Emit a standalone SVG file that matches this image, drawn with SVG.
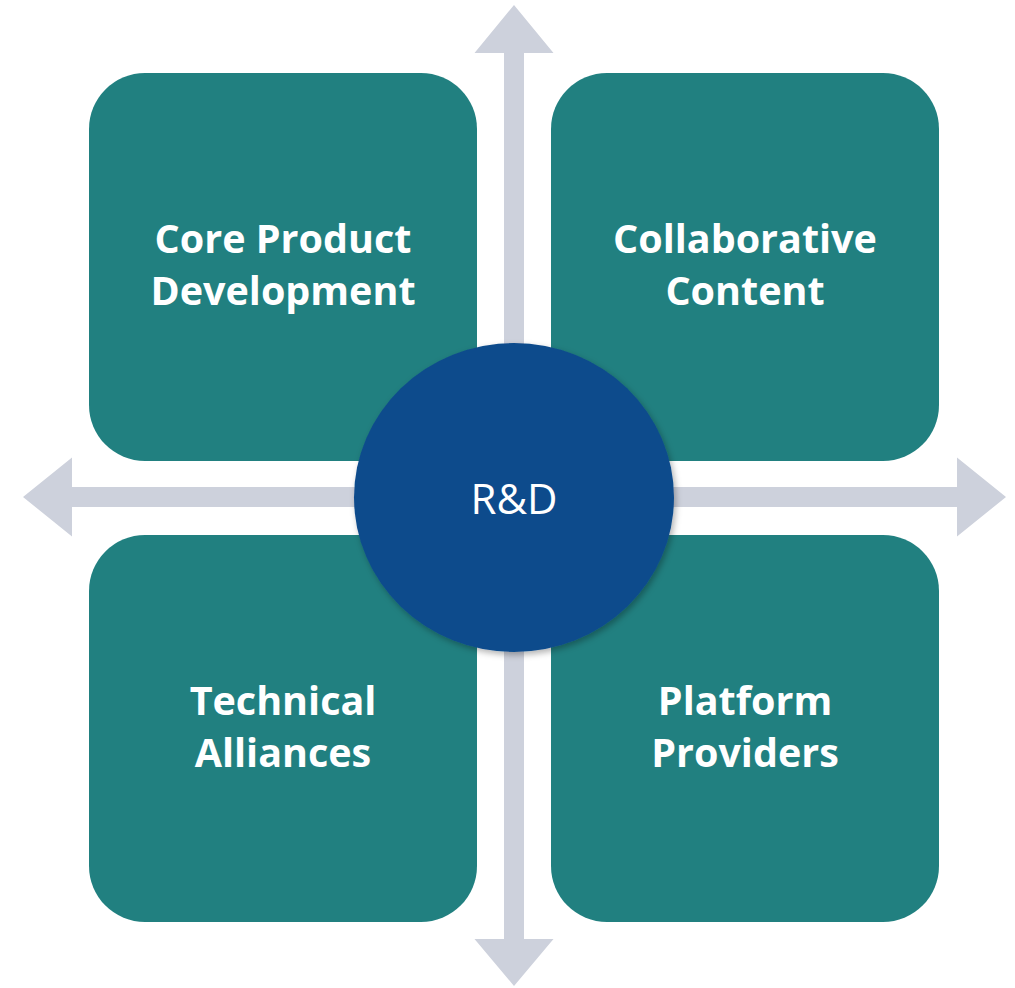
<svg xmlns="http://www.w3.org/2000/svg" width="1015" height="988" viewBox="0 0 1015 988">
  <defs>
    <filter id="shadow" x="-20%" y="-20%" width="140%" height="140%">
      <feDropShadow dx="2" dy="3" stdDeviation="3" flood-color="#000" flood-opacity="0.3"/>
    </filter>
  </defs>
  <style>
    .box { fill: #218080; }
    .arrow { fill: #CDD1DC; }
    .lbl { font-family: "Open Sans", "Liberation Sans", sans-serif; font-weight: bold; font-size: 39.5px; fill: #FFFFFF; text-anchor: middle; }
    .center { font-family: "Open Sans", "Liberation Sans", sans-serif; font-size: 42px; fill: #FFFFFF; text-anchor: middle; }
  </style>
  <rect width="1015" height="988" fill="#FFFFFF"/>
  <g id="connectors">
    <polygon class="arrow" points="514,5 553.5,53 524,53 524,939 553.5,939 514,986 474.5,939 504,939 504,53 474.5,53"/>
    <polygon class="arrow" points="23,497 72,457.5 72,487 957,487 957,457.5 1006,497 957,536.5 957,507 72,507 72,536.5"/>
  </g>
  <g id="node-core">
    <rect class="box" x="89" y="73" width="388" height="388" rx="56"/>
    <text class="lbl" x="283" y="253">Core Product</text>
    <text class="lbl" x="283" y="305">Development</text>
  </g>
  <g id="node-collab">
    <rect class="box" x="551" y="73" width="388" height="388" rx="56"/>
    <text class="lbl" x="745" y="253">Collaborative</text>
    <text class="lbl" x="745" y="305">Content</text>
  </g>
  <g id="node-technical">
    <rect class="box" x="89" y="535" width="388" height="387" rx="56"/>
    <text class="lbl" x="283" y="715">Technical</text>
    <text class="lbl" x="283" y="767">Alliances</text>
  </g>
  <g id="node-platform">
    <rect class="box" x="551" y="535" width="388" height="387" rx="56"/>
    <text class="lbl" x="745" y="715">Platform</text>
    <text class="lbl" x="745" y="767">Providers</text>
  </g>
  <g id="node-rd">
    <ellipse cx="514" cy="497.5" rx="160" ry="154.5" fill="#0F4C8C" filter="url(#shadow)"/>
    <text class="center" x="514" y="514">R&amp;D</text>
  </g>
</svg>
